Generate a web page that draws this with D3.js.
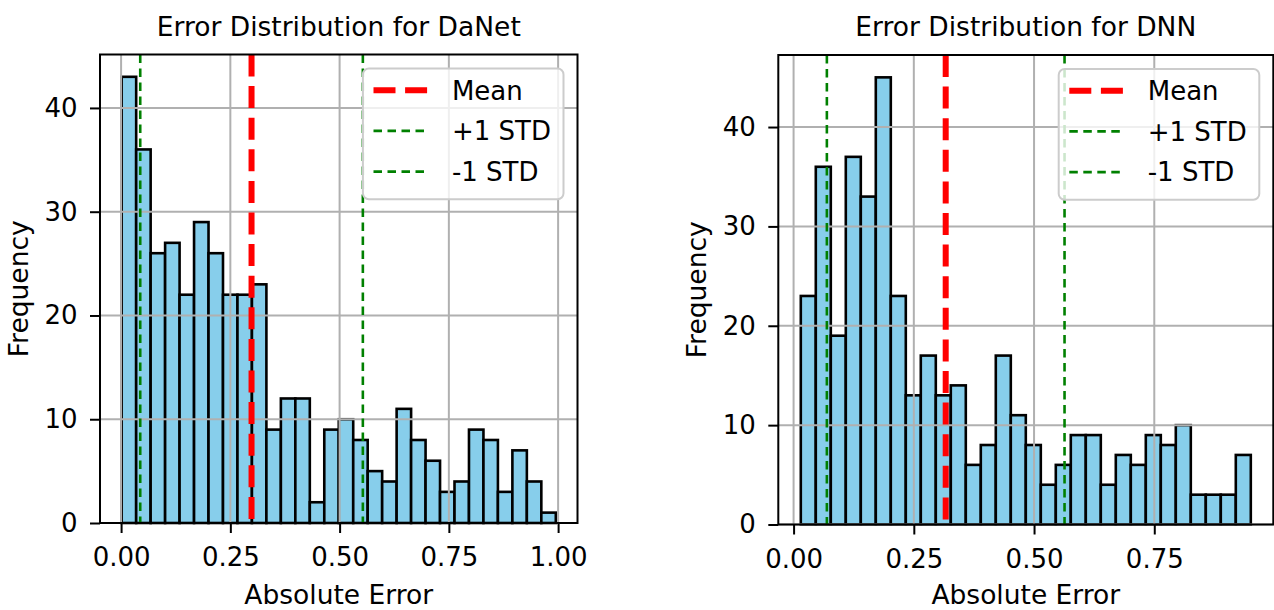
<!DOCTYPE html>
<html><head><meta charset="utf-8">
<script src="https://cdn.jsdelivr.net/npm/d3@7"></script>
<style>
body{margin:0;background:#fff}
svg{display:block}
text{font-family:"DejaVu Sans",sans-serif;fill:#000}
</style>
</head><body><svg id="c" width="1274" height="610"></svg>
<script>
// ---------------- data ----------------
const titles = ["Error Distribution for DaNet", "Error Distribution for DNN"];
const xLabel = "Absolute Error";
const yLabel = "Frequency";
const legendLabels = ["Mean", "+1 STD", "-1 STD"];

const danetCounts = [43,36,26,27,22,29,26,22,22,23,9,12,12,2,9,10,8,5,4,11,8,6,3,4,9,8,3,7,4,1];
const dnnCounts   = [23,36,19,37,33,45,23,13,17,13,14,6,8,17,11,8,4,6,9,9,4,7,6,9,8,10,3,3,3,7];

const danetBinRange = [0.0014, 0.9947];
const dnnBinRange   = [0.0150, 0.9507];

const danetStats = [0.2985, 0.2547]; // mean, std
const dnnStats   = [0.3163, 0.2471];

const danetXTicks = [0, 0.25, 0.5, 0.75, 1.0];
const dnnXTicks   = [0, 0.25, 0.5, 0.75];
const yTicks      = [0, 10, 20, 30, 40];

// ---------------- layout ----------------
const panels = [
  {counts: danetCounts, range: danetBinRange, stats: danetStats, xticks: danetXTicks, title: titles[0],
   left: 100, right: 577.5, top: 54.5, bottom: 523},
  {counts: dnnCounts, range: dnnBinRange, stats: dnnStats, xticks: dnnXTicks, title: titles[1],
   left: 778.3, right: 1273.3, top: 55, bottom: 524.5}
];

const svg = d3.select("#c");
const FS = 26;
const gridColor = "#b0b0b0";

panels.forEach(p => {
  const n = p.counts.length;
  const w = (p.range[1] - p.range[0]) / n;
  const bins = p.counts.map((c, i) => ({x0: p.range[0] + i * w, x1: p.range[0] + (i + 1) * w, c}));
  const span = p.range[1] - p.range[0];
  const x = d3.scaleLinear().domain([p.range[0] - 0.05 * span, p.range[1] + 0.05 * span]).range([p.left, p.right]);
  const ymax = d3.max(p.counts) * 1.05;
  const y = d3.scaleLinear().domain([0, ymax]).range([p.bottom, p.top]);

  const g = svg.append("g");

  // bars
  g.append("g").selectAll("rect").data(bins).join("rect")
    .attr("x", d => x(d.x0)).attr("y", d => y(d.c))
    .attr("width", d => x(d.x1) - x(d.x0)).attr("height", d => y(0) - y(d.c))
    .attr("fill", "#87CEEB").attr("stroke", "#000").attr("stroke-width", 2.6);

  // grid (drawn above bars like matplotlib)
  const grid = g.append("g").attr("stroke", gridColor).attr("stroke-width", 2);
  grid.selectAll("line.v").data(p.xticks).join("line").attr("class", "v")
    .attr("x1", d => x(d)).attr("x2", d => x(d)).attr("y1", p.top).attr("y2", p.bottom);
  grid.selectAll("line.h").data(yTicks).join("line").attr("class", "h")
    .attr("y1", d => y(d)).attr("y2", d => y(d)).attr("x1", p.left).attr("x2", p.right);

  // mean / std lines
  const [mean, std] = p.stats;
  const vlines = [
    {v: mean, color: "red", w: 6, dash: "22,9.6"},
    {v: mean + std, color: "green", w: 2.6, dash: "8.5,5.5"},
    {v: mean - std, color: "green", w: 2.6, dash: "8.5,5.5"}
  ];
  g.append("g").selectAll("line").data(vlines).join("line")
    .attr("x1", d => x(d.v)).attr("x2", d => x(d.v)).attr("y1", p.top).attr("y2", p.bottom)
    .attr("stroke", d => d.color).attr("stroke-width", d => d.w).attr("stroke-dasharray", d => d.dash);

  // axes
  const xa = g.append("g").attr("transform", `translate(0,${p.bottom})`)
    .call(d3.axisBottom(x).tickValues(p.xticks).tickFormat(d3.format(".2f")).tickSize(10).tickPadding(15));
  const ya = g.append("g").attr("transform", `translate(${p.left},0)`)
    .call(d3.axisLeft(y).tickValues(yTicks).tickFormat(d3.format("d")).tickSize(10).tickPadding(12.5));
  [xa, ya].forEach(a => {
    a.select(".domain").remove();
    a.selectAll(".tick line").attr("stroke", "#000").attr("stroke-width", 2);
    a.selectAll(".tick text").attr("font-size", FS).attr("font-family", "DejaVu Sans").attr("fill", "#000");
  });

  // spines
  g.append("rect").attr("x", p.left).attr("y", p.top)
    .attr("width", p.right - p.left).attr("height", p.bottom - p.top)
    .attr("fill", "none").attr("stroke", "#000").attr("stroke-width", 2);

  // title & labels
  const cx = (p.left + p.right) / 2;
  g.append("text").attr("x", cx).attr("y", 36).attr("text-anchor", "middle")
    .attr("font-size", FS + 0.5).text(p.title);
  g.append("text").attr("x", cx).attr("y", 603.5).attr("text-anchor", "middle")
    .attr("font-size", FS + 0.5).text(xLabel);
  g.append("text").attr("transform", `translate(${p.left - 72},${(p.top + p.bottom) / 2}) rotate(-90)`)
    .attr("text-anchor", "middle").attr("font-size", FS + 0.5).text(yLabel);

  // legend
  const lg = g.append("g");
  const box = lg.append("rect").attr("fill", "#fff").attr("fill-opacity", 0.8)
    .attr("stroke", "#cccccc").attr("stroke-width", 2).attr("rx", 6);
  const rowsY = [21.7, 62.4, 103.1];
  const items = lg.selectAll("g.item").data(vlines).join("g").attr("class", "item")
    .attr("transform", (d, i) => `translate(0,${rowsY[i]})`);
  items.append("line").attr("x1", 10.6).attr("x2", 65)
    .attr("stroke", d => d.color).attr("stroke-width", d => d.w).attr("stroke-dasharray", d => d.dash);
  const texts = items.append("text").attr("x", 89).attr("y", 0).attr("dy", "0.36em")
    .attr("font-size", FS).text((d, i) => legendLabels[i]);
  let tw = 0;
  texts.each(function () { tw = Math.max(tw, this.getComputedTextLength()); });
  const bw = 89 + tw + 12.6, bh = 130.7;
  box.attr("x", 0).attr("y", 0).attr("width", bw).attr("height", bh);
  lg.attr("transform", `translate(${p.right - 14 - bw},${p.top + 14})`);
});
</script>
</body></html>
